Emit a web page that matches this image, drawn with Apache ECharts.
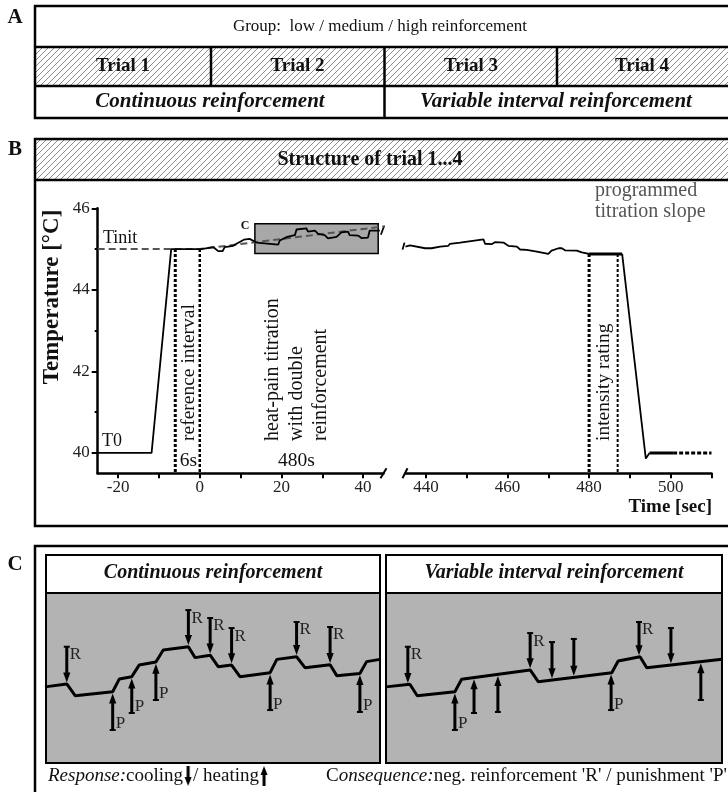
<!DOCTYPE html>
<html><head><meta charset="utf-8">
<script src="https://cdn.jsdelivr.net/npm/echarts@6/dist/echarts.min.js"></script>
<style>html,body{margin:0;padding:0;background:#fff}#c{width:728px;height:792px}</style>
</head><body><div id="c"></div><script>
const SERIF = '"Liberation Serif","Times New Roman",serif';

// ---------- Panel A texts ----------
const groupLabel = 'Group:  low / medium / high reinforcement';
const trialLabels = ['Trial 1', 'Trial 2', 'Trial 3', 'Trial 4'];
const scheduleLabels = ['Continuous reinforcement', 'Variable interval reinforcement'];

// ---------- Panel B axes ----------
const tempTicks = [40, 42, 44, 46];
const tempMinorTicks = [41, 43, 45];
const timeTicksLeft = [-20, -10, 0, 10, 20, 30, 40];
const timeLabelsLeft = [-20, 0, 20, 40];
const timeTicksRight = [440, 450, 460, 470, 480, 490, 500, 510];
const timeLabelsRight = [440, 460, 480, 500];

// ---------- Panel B data (time [s], temperature [°C]) ----------
const preTrial = [[-25, 40], [-11.8, 40], [-7, 45], [0.4, 45]];
const titrationStart = [[3.3, 45.05], [4.5, 44.95], [5.6, 44.95], [6.1, 45.05], [8.2, 45.08], [9, 45.13],
  [10.8, 45.23], [12.2, 45.25], [13.9, 45.16], [19.2, 45.11], [19.6, 45.21], [21.4, 45.3], [23.3, 45.34],
  [23.7, 45.48], [26.1, 45.51], [26.5, 45.43], [28.2, 45.45], [29, 45.37], [30.6, 45.34], [31.4, 45.26],
  [33.5, 45.3], [34.7, 45.41], [36.3, 45.43], [36.7, 45.34], [38.8, 45.33], [39.6, 45.27], [41.2, 45.28],
  [41.6, 45.45], [44.1, 45.45]];
const programmedSlope = [[-25, 45], [0, 45], [95.5, 46.18]];
const zoomBox = [[13.5, 45.62], [43.7, 44.89]];
const referenceInterval = [-6, 0];
const titrationEnd = [[435, 45.06], [436.1, 45.09], [439.8, 45.02], [441.4, 45.02], [443.5, 45.06],
  [445.5, 45.08], [445.9, 45.13], [448.4, 45.16], [454.1, 45.24], [454.5, 45.13], [456.1, 45.12],
  [456.9, 45.17], [459, 45.16], [460.2, 45.08], [462.3, 45.06], [463.1, 44.99], [464.7, 44.98],
  [467.2, 44.94], [470, 44.88], [470.8, 44.96], [472.5, 45.02], [473.3, 45.02], [474.1, 44.97],
  [477, 44.96], [478.2, 44.92], [480, 44.88]];
const ratingPlateau = [[480, 44.88], [488.1, 44.88]];
const cooldown = [[488.1, 44.88], [493.9, 39.86], [494.8, 40]];
const baselineEnd = [[494.8, 40], [500.6, 40]];
const baselineDotted = [[500.6, 40], [510, 40]];
const ratingInterval = [480, 487];

// ---------- Panel C data (schematic time 0..100, temperature 0..100) ----------
const contTrace = [[0, 44], [6.5, 45.7], [9, 38.9], [20.2, 41.2], [22.2, 48.6], [25.9, 49.9], [28.1, 56.6],
  [33.1, 58.4], [35.3, 65.3], [42.8, 67.2], [44.8, 60.9], [49.3, 62.3], [51.7, 55.7], [55.7, 56.6],
  [58.2, 49.9], [67.2, 52.2], [69.2, 59.9], [75.1, 61.4], [77.6, 55.1], [85.1, 56.8], [87.1, 50.5],
  [94, 51.8], [96, 58.6], [100, 59.9]];
// [x, tail, tip, label]
const contCooling = [[6.5, 67.2, 46.6, 'R'], [42.8, 88.4, 68.2, 'R'], [49.3, 83.8, 63.3, 'R'],
  [55.7, 78, 57.6, 'R'], [75.1, 81.5, 62.4, 'R'], [85.1, 78.6, 57.8, 'R']];
const contHeating = [[20.2, 19.1, 40.2, 'P'], [25.9, 28.9, 48.9, 'P'], [33.1, 36.4, 57.4, 'P'],
  [67.2, 30.6, 51.2, 'P'], [94, 29.5, 50.8, 'P']];
const varTrace = [[0, 44], [7.1, 45.5], [9.3, 38.9], [20.5, 41.2], [22.5, 48.4], [42.9, 53.8], [45.3, 47],
  [67.2, 52.2], [69.1, 59], [75.6, 61.4], [77.6, 55.1], [100, 60]];
const varCooling = [[6.5, 67.2, 46.3, 'R'], [42.9, 75.1, 54.8, 'R'], [49.4, 69.9, 49, ''],
  [55.9, 71.7, 50.5, ''], [75.3, 81.5, 62.3, 'R'], [84.8, 78, 57.7, '']];
const varHeating = [[20.5, 19.1, 40.2, 'P'], [26.2, 28.9, 48.4, ''], [33.3, 29.5, 50.3, ''],
  [67, 30.6, 51.2, 'P'], [93.7, 36.4, 57.6, '']];

// ---------- helpers ----------
function hatchCanvas() {
  const s = 6, c = document.createElement('canvas');
  c.width = s; c.height = s;
  const g = c.getContext('2d');
  g.strokeStyle = '#8c8c8c'; g.lineWidth = 1;
  g.beginPath();
  g.moveTo(0, s); g.lineTo(s, 0);
  g.moveTo(-1, 1); g.lineTo(1, -1);
  g.moveTo(s - 1, s + 1); g.lineTo(s + 1, s - 1);
  g.stroke();
  return c;
}
function arrowCanvas(down) {
  const c = document.createElement('canvas');
  c.width = 10; c.height = 22;
  const g = c.getContext('2d');
  g.fillStyle = '#000';
  if (down) {
    g.fillRect(3.5, 1, 3, 12);
    g.beginPath(); g.moveTo(1.5, 12); g.lineTo(8.5, 12); g.lineTo(5, 21); g.closePath(); g.fill();
  } else {
    g.fillRect(3.5, 9, 3, 12);
    g.beginPath(); g.moveTo(1.5, 10); g.lineTo(8.5, 10); g.lineTo(5, 1); g.closePath(); g.fill();
  }
  return c;
}
const HATCH = { image: hatchCanvas(), repeat: 'repeat' };

function T(x, y, text, font, extra) {
  return Object.assign({ type: 'text', x: x, y: y, silent: true, style: Object.assign({
    text: text, font: font, fill: '#111', align: 'center', verticalAlign: 'middle' }, extra && extra.style || {}) },
    extra && extra.el || {});
}
function L(x1, y1, x2, y2, w) {
  return { type: 'line', silent: true, shape: { x1: x1, y1: y1, x2: x2, y2: y2 }, style: { stroke: '#000', lineWidth: w || 2 } };
}
function R(x, y, w, h, fill, stroke, lw) {
  return { type: 'rect', silent: true, shape: { x: x, y: y, width: w, height: h },
    style: { fill: fill || 'none', stroke: stroke || null, lineWidth: lw || 0 } };
}

function arrowRender(source) {
  return function (params, api) {
    const d = source[params.dataIndex];
    const tail = api.coord([d[0], d[1]]), tip = api.coord([d[0], d[2]]);
    const dir = tip[1] > tail[1] ? 1 : -1;
    const hl = 10, hw = 3.6;
    const baseY = tip[1] - dir * hl;
    const children = [
      { type: 'line', shape: { x1: tail[0], y1: tail[1], x2: tip[0], y2: baseY + dir }, style: { stroke: '#000', lineWidth: 3 } },
      { type: 'polygon', shape: { points: [[tip[0] - hw, baseY], [tip[0] + hw, baseY], [tip[0], tip[1]]] }, style: { fill: '#000' } },
      { type: 'rect', shape: { x: tail[0] - 3, y: tail[1] - 1, width: 6, height: 2 }, style: { fill: '#000' } }
    ];
    if (d[3]) children.push({ type: 'text', x: tail[0] + 3, y: tail[1] + (dir > 0 ? 8 : -6),
      style: { text: d[3], font: '17px ' + SERIF, fill: '#222', align: 'left', verticalAlign: 'middle' } });
    return { type: 'group', children: children };
  };
}
function arrowSeries(src, xi, yi) {
  return { type: 'custom', xAxisIndex: xi, yAxisIndex: yi, silent: true, z: 4, clip: false,
    renderItem: arrowRender(src), data: src.map(d => [d[0], d[1], d[2]]), encode: { x: 0, y: [1, 2] } };
}
function lineS(data, xi, yi, width, extra) {
  return Object.assign({ type: 'line', xAxisIndex: xi, yAxisIndex: yi, data: data, symbol: 'none', silent: true,
    z: 3, lineStyle: { color: '#000', width: width } }, extra || {});
}
function dashedV(t, top, xi, yi, width) {
  return lineS([[t, top], [t, 39.5]], xi, yi, width, { lineStyle: { color: '#000', width: width, type: [3, 2] } });
}

const axisFont = { fontFamily: SERIF, fontSize: 17, color: '#222' };
function timeAxis(gi, min, max, ticks, labels) {
  return { type: 'value', gridIndex: gi, min: min, max: max,
    axisLine: { show: true, onZero: false, lineStyle: { color: '#000', width: 2.5 } },
    axisTick: { show: true, customValues: ticks, length: 5, lineStyle: { color: '#000', width: 2 } },
    axisLabel: Object.assign({ show: true, customValues: labels, margin: 6 }, axisFont),
    splitLine: { show: false } };
}
function hiddenAxis(gi, min, max) {
  return { type: 'value', gridIndex: gi, min: min, max: max, show: false, axisLine: { onZero: false } };
}

// grid layout
const G0 = { left: 97.7, top: 208.3, width: 285.8, height: 265 };
const G1 = { left: 405.5, top: 208.3, width: 306, height: 265 };

const option = {
  animation: false,
  backgroundColor: '#fff',
  grid: [
    Object.assign({ outerBoundsMode: 'none', containLabel: false }, G0),
    Object.assign({ outerBoundsMode: 'none', containLabel: false }, G1),
    { left: 45, top: 590, width: 335, height: 173, outerBoundsMode: 'none' },
    { left: 386, top: 590, width: 336, height: 173, outerBoundsMode: 'none' }
  ],
  xAxis: [
    timeAxis(0, -25, 45, timeTicksLeft, timeLabelsLeft),
    timeAxis(1, 435, 510, timeTicksRight, timeLabelsRight),
    hiddenAxis(2, 0, 100),
    hiddenAxis(3, 0, 100)
  ],
  yAxis: [
    { type: 'value', gridIndex: 0, min: 39.5, max: 46, position: 'left',
      axisLine: { show: true, onZero: false, lineStyle: { color: '#000', width: 2.5 } },
      axisTick: { show: true, customValues: tempTicks, length: 6, lineStyle: { color: '#000', width: 2 } },
      axisLabel: Object.assign({ show: true, customValues: tempTicks, margin: 8 }, axisFont),
      splitLine: { show: false } },
    { type: 'value', gridIndex: 0, min: 39.5, max: 46, position: 'left', offset: 0,
      axisLine: { show: false, onZero: false },
      axisTick: { show: true, customValues: tempMinorTicks, length: 3, lineStyle: { color: '#000', width: 2 } },
      axisLabel: { show: false }, splitLine: { show: false } },
    hiddenAxis(1, 39.5, 46),
    hiddenAxis(2, 0, 100),
    hiddenAxis(3, 0, 100)
  ],
  series: [
    { type: 'line', xAxisIndex: 0, yAxisIndex: 0, data: [], z: 1, silent: true,
      markArea: { silent: true, itemStyle: { color: '#a8a8a8', borderColor: '#000', borderWidth: 1.5 },
        label: { show: true, formatter: 'C', position: [-9, 3], align: 'center', verticalAlign: 'middle',
          fontFamily: SERIF, fontSize: 12, fontWeight: 'bold', color: '#111' },
        data: [[{ coord: zoomBox[0] }, { coord: zoomBox[1] }]] } },
    lineS(programmedSlope, 0, 0, 2, { z: 2, clip: false, lineStyle: { color: '#555', width: 2, type: [7, 4] } }),
    lineS(preTrial.concat(titrationStart), 0, 0, 1.8),
    dashedV(referenceInterval[0], 45, 0, 0, 3),
    dashedV(referenceInterval[1], 45, 0, 0, 2.5),
    lineS(titrationEnd, 1, 2, 1.8),
    lineS(ratingPlateau, 1, 2, 3),
    lineS(cooldown, 1, 2, 1.8),
    lineS(baselineEnd, 1, 2, 3),
    lineS(baselineDotted, 1, 2, 3, { lineStyle: { color: '#000', width: 3, type: [4, 2] } }),
    dashedV(ratingInterval[0], 44.88, 1, 2, 3),
    dashedV(ratingInterval[1], 44.88, 1, 2, 2),
    lineS(contTrace, 2, 3, 3),
    lineS(varTrace, 3, 4, 3),
    arrowSeries(contCooling, 2, 3),
    arrowSeries(contHeating, 2, 3),
    arrowSeries(varCooling, 3, 4),
    arrowSeries(varHeating, 3, 4)
  ]
};

const chart = echarts.init(document.getElementById('c'), null, { renderer: 'canvas' });
chart.setOption(option);

// ---------- layout graphics ----------
const g = [];
const reg = s => s + 'px ' + SERIF;
const bld = s => 'bold ' + s + 'px ' + SERIF;
const bit = s => 'italic bold ' + s + 'px ' + SERIF;
// Panel A
g.push(R(35, 47, 700, 39, HATCH));
g.push(R(35, 6, 700, 112, 'none', '#000', 2.5));
g.push(L(35, 47, 735, 47, 2.5), L(35, 86, 735, 86, 2.5));
g.push(L(211, 47, 211, 86, 2.5), L(384.5, 47, 384.5, 118, 2.5), L(557, 47, 557, 86, 2.5));
g.push(T(15, 18, 'A', bld(21)));
g.push(T(380, 27, groupLabel, reg(17)));
[123, 297.5, 471, 642].forEach((x, i) => g.push(T(x, 66.5, trialLabels[i], bld(19))));
g.push(T(210, 102, scheduleLabels[0], bit(21)));
g.push(T(556, 102, scheduleLabels[1], bit(21)));

// Panel B
g.push(R(35, 139, 700, 41, HATCH));
g.push(R(35, 139, 700, 387, 'none', '#000', 2.5));
g.push(L(35, 180, 735, 180, 2.5));
g.push(T(15, 150, 'B', bld(21)));
g.push(T(370, 160, 'Structure of trial 1...4', bld(20)));
g.push(T(52, 297, 'Temperature [°C]', bld(23), { el: { rotation: Math.PI / 2 } }));
g.push(T(712, 507, 'Time [sec]', bld(19), { style: { align: 'right' } }));
g.push(T(103, 238, 'Tinit', reg(18), { style: { align: 'left' } }));
g.push(T(102, 441, 'T0', reg(18), { style: { align: 'left' } }));
g.push(T(188.5, 441, 'reference interval', reg(19.5), { el: { rotation: Math.PI / 2 }, style: { align: 'left' } }));
g.push(T(188.5, 461, '6s', reg(19.5)));
g.push(T(296.5, 441, 'heat-pain titration\nwith double\nreinforcement', reg(20),
  { el: { rotation: Math.PI / 2 }, style: { align: 'left', lineHeight: 24 } }));
g.push(T(296.5, 461, '480s', reg(19.5)));
g.push(T(603.5, 441, 'intensity rating', reg(19.5), { el: { rotation: Math.PI / 2 }, style: { align: 'left' } }));
g.push(T(595, 191, 'programmed', reg(20), { style: { align: 'left', fill: '#555' } }));
g.push(T(595, 212, 'titration slope', reg(20), { style: { align: 'left', fill: '#555' } }));
// axis break marks
const xb0 = G0.left + G0.width, yb = G0.top + G0.height;
g.push(L(xb0 - 3, yb + 5, xb0 + 3, yb - 5, 2), L(G1.left - 3, yb + 5, G1.left + 2, yb - 5, 2));
const endPt = chart.convertToPixel({ xAxisIndex: 0, yAxisIndex: 0 }, titrationStart[titrationStart.length - 1]);
const startPt = chart.convertToPixel({ xAxisIndex: 1, yAxisIndex: 2 }, titrationEnd[0]);
g.push(L(endPt[0] + 1, endPt[1] + 4, endPt[0] + 4, endPt[1] - 4, 1.8));
g.push(L(startPt[0] - 3, startPt[1] + 3, startPt[0] - 1, startPt[1] - 4, 1.8));

// Panel C
g.push(R(35, 546, 700, 300, 'none', '#000', 2.5));
g.push(T(15, 565, 'C', bld(21)));
[[46, 334, scheduleLabels[0]], [386, 336, scheduleLabels[1]]].forEach(b => {
  g.push(R(b[0], 593, b[1], 170, '#b3b3b3'));
  g.push(R(b[0], 555, b[1], 208, 'none', '#000', 2));
  g.push(L(b[0], 593, b[0] + b[1], 593, 2));
  g.push(T(b[0] + b[1] / 2, 573, b[2], bit(20)));
});
const richBase = {
  i: { fontFamily: SERIF, fontSize: 19, fontStyle: 'italic', fill: '#111' },
  n: { fontFamily: SERIF, fontSize: 19, fill: '#111' },
  dn: { width: 10, height: 22, backgroundColor: { image: arrowCanvas(true) } },
  up: { width: 10, height: 22, backgroundColor: { image: arrowCanvas(false) } }
};
g.push({ type: 'text', x: 48, y: 776, silent: true, style: { text: '{i|Response:}{n|cooling}{dn| }{n|/ heating}{up| }',
  rich: richBase, align: 'left', verticalAlign: 'middle' } });
g.push({ type: 'text', x: 326, y: 776, silent: true, style: { text: "{n|C}{i|onsequence:}{n|neg. reinforcement 'R' / punishment 'P'}",
  rich: richBase, align: 'left', verticalAlign: 'middle' } });

chart.setOption({ graphic: { elements: g } });
</script></body></html>
